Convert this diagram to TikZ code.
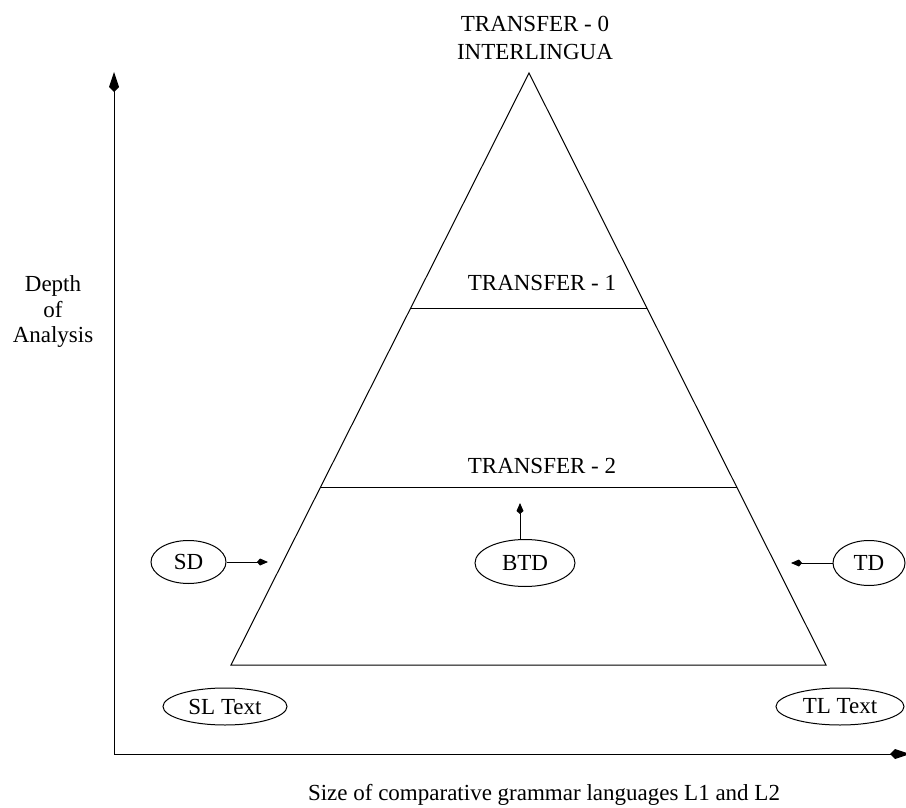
\documentclass[tikz,border=0pt]{standalone}
\usepackage{fontspec}
\setmainfont{Liberation Serif}
\usetikzlibrary{shapes.geometric,arrows.meta,calc}
\begin{document}
\begin{tikzpicture}[x=1pt,y=-1pt,
  every node/.style={font=\fontsize{23}{26}\selectfont},
  thin line/.style={line width=1pt},
  bubble/.style={ellipse,draw,line width=1pt,inner sep=0pt},
  ptr/.style={line width=1pt,-{Kite[length=11pt,width=7pt,inset=3pt]}},
  axisline/.style={line width=1pt,-{Kite[length=20pt,width=10pt,inset=5pt]}},
  txt/.style={inner sep=0pt,anchor=base}]
  \useasboundingbox (0,0) rectangle (906,808);

  % axes
  \coordinate (origin) at (114,754);
  \coordinate (ytip) at (114,72);
  \coordinate (xtip) at (910,754);
  \draw[axisline] (origin) -- (ytip);
  \draw[axisline] (origin) -- (xtip);

  % pyramid
  \coordinate (apex) at (529,73);
  \coordinate (bl) at (231,665);
  \coordinate (br) at (826,665);
  \draw[thin line] (apex) -- (bl) -- (br) -- cycle;
  \draw[thin line] ($(apex)!0.3986!(bl)$) -- ($(apex)!0.3986!(br)$);
  \draw[thin line] ($(apex)!0.701!(bl)$) -- ($(apex)!0.701!(br)$);

  % level labels
  \node[txt] (t0) at (535,32) {TRANSFER - 0};
  \node[txt] (il) at (535,60) {INTERLINGUA};
  \node[txt] (t1) at (542,290) {TRANSFER - 1};
  \node[txt] (t2) at (542,473) {TRANSFER - 2};

  % axis labels
  \node[txt] (d1) at (53,291) {Depth};
  \node[txt] (d2) at (53,317) {of};
  \node[txt] (d3) at (53,342) {Analysis};
  \node[txt] (xl) at (544,800) {Size of comparative grammar languages L1 and L2};

  % descriptions
  \node[bubble,minimum width=75pt,minimum height=43pt] (sd) at (188.5,562) {SD};
  \node[bubble,minimum width=100pt,minimum height=47pt] (btd) at (525,563) {BTD};
  \node[bubble,minimum width=72pt,minimum height=45pt] (td) at (869,563) {TD};
  \coordinate (sdtip) at (268,562);
  \coordinate (tdtip) at (791,563);
  \coordinate (btdtip) at (520,503);
  \draw[ptr] (sd.east) -- (sdtip);
  \draw[ptr] (td.west) -- (tdtip);
  \draw[ptr] (btdtip |- btd.north) -- (btdtip);

  % texts
  \node[bubble,minimum width=124pt,minimum height=37pt] (sl) at (225,706.5) {SL Text};
  \node[bubble,minimum width=128pt,minimum height=37pt] (tl) at (840,706.5) {TL Text};
\end{tikzpicture}
\end{document}
